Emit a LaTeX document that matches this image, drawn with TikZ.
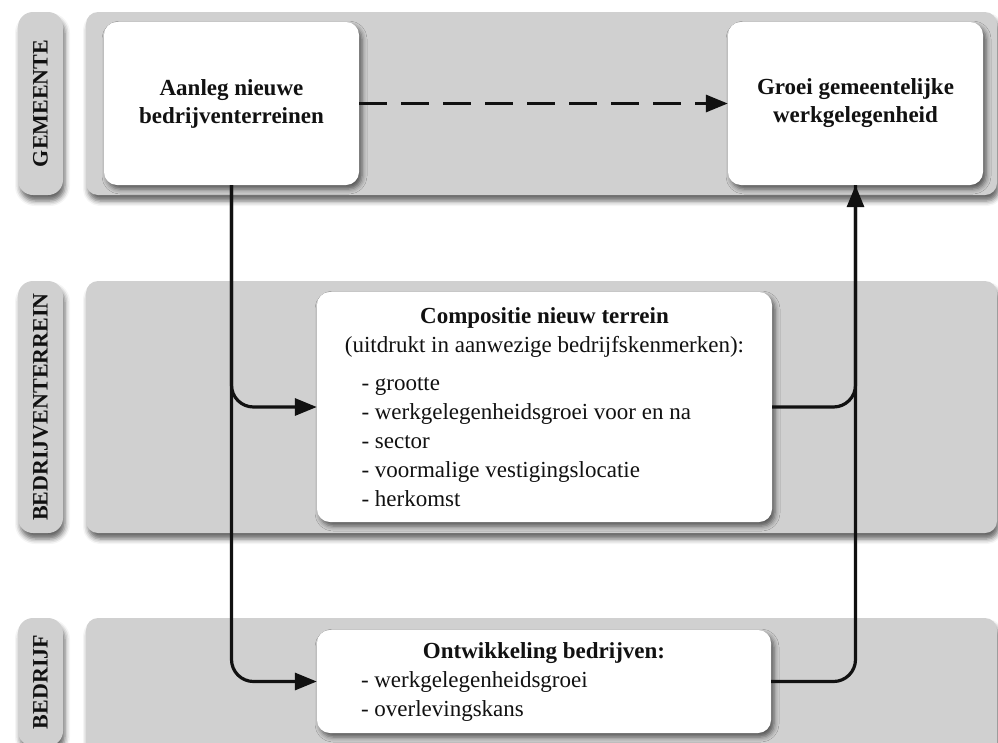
\documentclass[tikz,border=0pt]{standalone}
\usepackage{fontspec}
\setmainfont{Liberation Serif}
\usepackage{xcolor}
\usetikzlibrary{arrows.meta,positioning,shadows.blur}

\definecolor{lanegrey}{RGB}{208,208,208}
\definecolor{inkblack}{RGB}{17,17,17}
\newcommand{\listentry}[1]{\makebox[366pt][l]{- #1}}

\begin{document}
\begin{tikzpicture}[
  x=1pt, y=-1pt,
  lane/.style={fill=lanegrey, rounded corners=12pt, inner sep=0pt,
    blur shadow={shadow xshift=2pt, shadow yshift=-6pt, shadow blur radius=5pt, shadow opacity=60}},
  lanetag/.style={lane, rounded corners=15pt, minimum width=45,
    font=\bfseries\fontsize{22}{26}\selectfont, text=inkblack},
  box/.style={fill=white, rounded corners=13pt, inner sep=0pt, align=center,
    text=inkblack, font=\fontsize{23}{29}\selectfont,
    blur shadow={shadow xshift=3pt, shadow yshift=-4pt, shadow blur radius=5pt, shadow opacity=60}},
  flow/.style={-{Triangle[length=22pt, width=17pt]}, line width=3.2pt, draw=inkblack},
  link/.style={line width=3.2pt, draw=inkblack}
]
\useasboundingbox (0,0) rectangle (998,742);

% lanes
\node[lane, minimum width=911, minimum height=183] (gemlane) at (541.5,103.5) {};
\node[lane, minimum width=911, minimum height=252] (terlane) at (541.5,407) {};
\node[lane, minimum width=911, minimum height=160] (bedrlane) at (541.5,698) {};
\node[lanetag, minimum height=183] (gemtag) at (40.5,103.5) {\rotatebox{90}{GEMEENTE}};
\node[lanetag, minimum height=252] (tertag) at (40.5,407) {\rotatebox{90}{BEDRIJVENTERREIN}};
\node[lanetag, minimum height=128] (bedrtag) at (40.5,682) {\rotatebox{90}{BEDRIJF}};

% boxes
\node[box, font=\bfseries\fontsize{23}{28}\selectfont, minimum width=255, minimum height=163]
  (aanleg) at (231.5,103.5) {Aanleg nieuwe\\bedrijventerreinen};
\node[box, font=\bfseries\fontsize{23}{28}\selectfont, minimum width=255, minimum height=163]
  (groei) at (855.5,103.5) {Groei gemeentelijke\\werkgelegenheid};
\node[box, minimum width=455, minimum height=230] (compos) at (544.5,407)
  {{\bfseries Compositie nieuw terrein}\\
   (uitdrukt in aanwezige bedrijfskenmerken):\\[9pt]
   \listentry{grootte}\\
   \listentry{werkgelegenheidsgroei voor en na}\\
   \listentry{sector}\\
   \listentry{voormalige vestigingslocatie}\\
   \listentry{herkomst}};
\node[box, minimum width=454, minimum height=103] (ontw) at (544,681.5)
  {{\bfseries Ontwikkeling bedrijven:}\\
   \listentry{werkgelegenheidsgroei}\\
   \listentry{overlevingskans}};

% connectors
\draw[flow, dash pattern=on 28pt off 14pt] (aanleg) -- (groei);
\draw[flow, rounded corners=22pt] (aanleg.south) |- (ontw.west);
\draw[flow, rounded corners=22pt] (aanleg.south) |- (compos.west);
\draw[link, rounded corners=22pt] (compos.east) -| (groei.south);
\draw[flow, rounded corners=22pt] (ontw.east) -| (groei.south);
\end{tikzpicture}
\end{document}
